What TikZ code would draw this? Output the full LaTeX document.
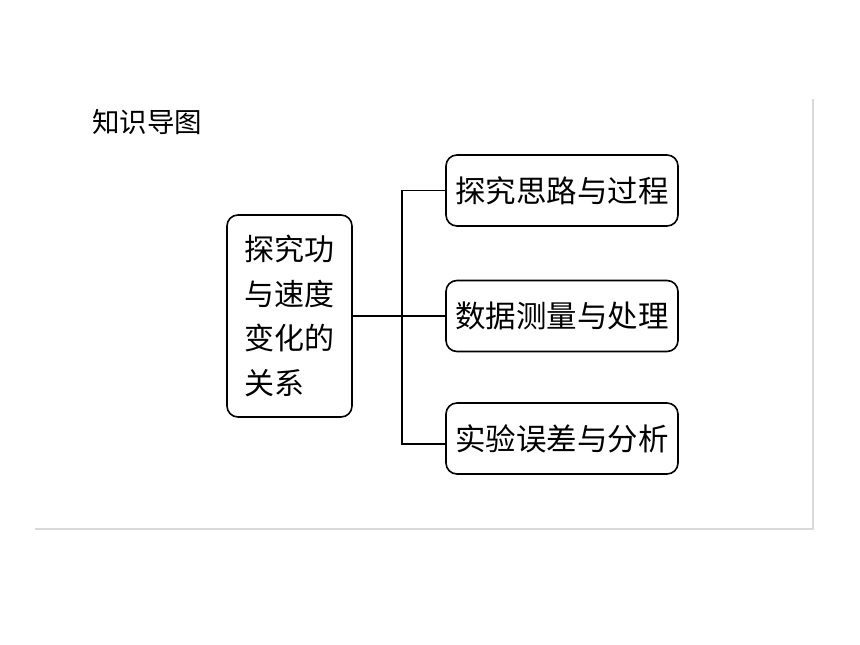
\documentclass[tikz,border=0pt]{standalone}
\usepackage{fontspec}
\newfontfamily\cjk{Noto Sans CJK SC}
\begin{document}
\begin{tikzpicture}[x=1pt,y=-1pt,
  box/.style={draw=black,line width=1.6pt,rounded corners=11pt,fill=white,inner sep=0pt},
  rbox/.style={box,minimum width=232pt,minimum height=71pt,font=\cjk\fontsize{30.5}{36}\selectfont},
  link/.style={draw=black,line width=1.5pt},
  frame/.style={draw=black!15,line width=1.2pt}]
\useasboundingbox (0,0) rectangle (860,645);
\node[anchor=west,inner sep=0pt,font=\cjk\fontsize{27.5}{32}\selectfont] (title) at (92,122) {知识导图};
\coordinate (fa) at (35,529);
\coordinate (fb) at (813,529);
\coordinate (fc) at (813,99);
\draw[frame] (fa) -- (fb) -- (fc);
\node[box,minimum width=125pt,minimum height=202pt,align=left,font=\cjk\fontsize{30}{44.5}\selectfont] (c) at (289.5,316) {探究功\\与速度\\变化的\\关系};
\node[rbox] (b1) at (562,190.5) {探究思路与过程};
\node[rbox] (b2) at (562,316) {数据测量与处理};
\node[rbox] (b3) at (562,438.5) {实验误差与分析};
\coordinate (j) at (402,316);
\draw[link] (c.east) -- (b2.west);
\draw[link] (b1.west) -| (j) |- ([yshift=-5.5pt]b3.west);
\end{tikzpicture}
\end{document}
